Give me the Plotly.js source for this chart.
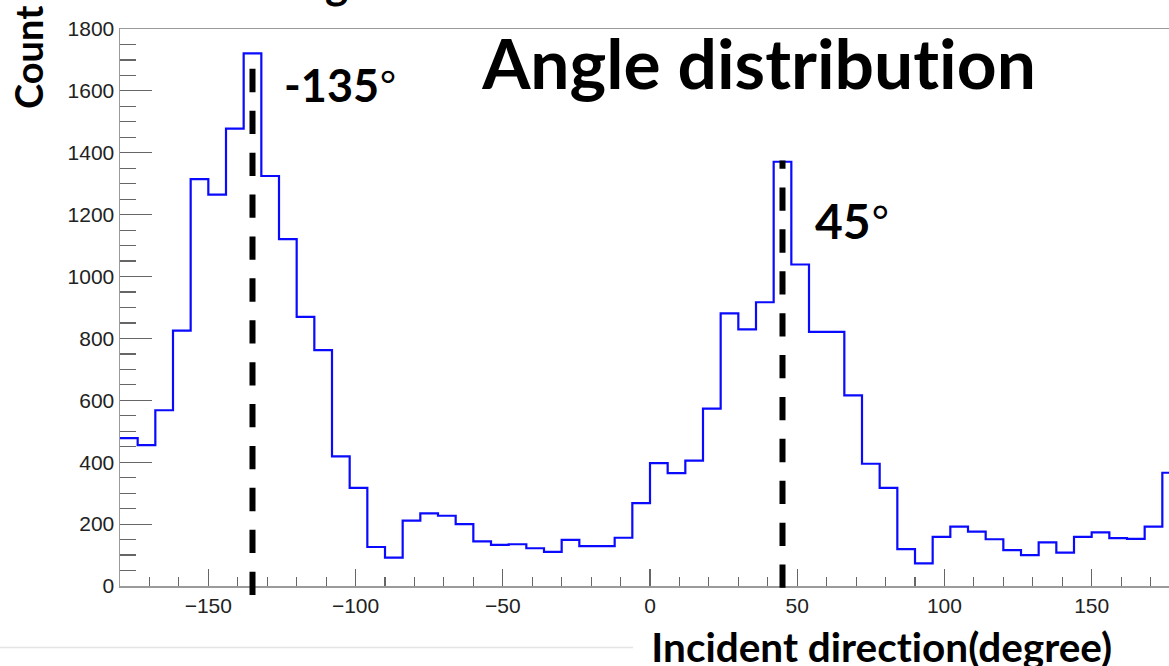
<!DOCTYPE html>
<html>
<head>
<meta charset="utf-8">
<script src="https://cdn.plot.ly/plotly-3.0.1.min.js"></script>
<style>
  html, body { margin: 0; padding: 0; background: #fff; overflow: hidden; }
  #chart { width: 1200px; height: 666px; }
  #chart text { font-variant-ligatures: none; font-feature-settings: "liga" 0, "clig" 0; }
</style>
</head>
<body>
<div id="chart"></div>
<script>
// Histogram of incident angles: 60 bins of 6 degrees from -180 to 180
const binStart = -180;
const binWidth = 6;
const counts = [
  478, 455, 568, 825, 1315, 1265, 1478, 1721, 1325, 1121,
  870, 762, 419, 317, 126, 92, 211, 235, 227, 200,
  144, 133, 135, 122, 110, 149, 129, 129, 156, 268,
  397, 365, 405, 573, 881, 829, 917, 1371, 1039, 821,
  821, 616, 395, 317, 119, 73, 159, 192, 176, 151,
  116, 100, 141, 108, 159, 173, 155, 152, 192, 366
];

// Marked directions and the extent of their dashed guide lines (in counts)
const peakAngles = [-135, 45];
const peakLabels = ['-135', '45'];
const guideTop = [1683, 1375];
const guideBottom = [-29, -6];

// Label anchors (degrees, counts)
const labelX = [-124.9, 55.3];
const labelY = [1620, 1181];
const labelSize = [45, 48];

const xRange = [-180, 180];
const yRange = [0, 1800];

// Step outline: left bin edges plus the closing edge
const edgesX = [];
const stepY = [];
for (let i = 0; i < counts.length; i++) {
  edgesX.push(binStart + i * binWidth);
  stepY.push(counts[i]);
}
edgesX.push(binStart + counts.length * binWidth);
stepY.push(counts[counts.length - 1]);

const hist = {
  type: 'scatter',
  mode: 'lines',
  x: edgesX,
  y: stepY,
  line: { shape: 'hv', color: '#0a0aff', width: 2.2 },
  hoverinfo: 'x+y',
  showlegend: false
};

// Fraction of the y-axis domain for a count value (guides may dip below zero)
function yFrac(v) { return (v - yRange[0]) / (yRange[1] - yRange[0]); }

const shapes = peakAngles.map((a, i) => ({
  type: 'line',
  xref: 'x', yref: 'y domain',
  x0: a, x1: a,
  y0: yFrac(guideBottom[i]), y1: yFrac(guideTop[i]),
  line: { color: '#000', width: 6, dash: '23.3px,18.6px' },
  layer: 'above'
}));

// faint separator line at the lower left
shapes.push({
  type: 'line', xref: 'paper', yref: 'paper',
  x0: -0.1132, x1: 0.484, y0: -0.1104, y1: -0.1104,
  line: { color: '#e4e4e4', width: 1.5 }
});

const boldFont = (size) => ({ family: 'Lato, "Open Sans", sans-serif', size: size, color: '#000', weight: 700 });
const degree = '<span style="font-family:Liberation Sans;font-weight:400">°</span>';

const annotations = peakLabels.map((t, i) => ({
  xref: 'x', yref: 'y',
  x: labelX[i], y: labelY[i],
  xanchor: 'left', yanchor: 'middle',
  text: t + degree,
  showarrow: false,
  font: boldFont(labelSize[i])
}));

annotations.push({
  xref: 'paper', yref: 'paper',
  x: -0.0868, y: 0.9497,
  xanchor: 'center', yanchor: 'middle',
  text: 'Count', textangle: -90,
  showarrow: false,
  font: boldFont(38)
});

annotations.push({
  xref: 'paper', yref: 'paper',
  x: 0.7184, y: -0.1086,
  xanchor: 'center', yanchor: 'middle',
  text: 'Incident direction(degree)',
  showarrow: false,
  font: boldFont(40.5)
});

// tail of a heading line above the frame
annotations.push({
  xref: 'paper', yref: 'paper',
  x: 0.2047, y: 1.035,
  xanchor: 'center', yanchor: 'bottom',
  text: 'g',
  showarrow: false,
  font: boldFont(44)
});

const tickFont = { family: '"Liberation Sans", Arial, sans-serif', size: 21, color: '#222' };

const layout = {
  width: 1200,
  height: 666,
  margin: { l: 120, r: 20, t: 29, b: 80, pad: 0 },
  paper_bgcolor: '#fff',
  plot_bgcolor: '#fff',
  title: {
    text: 'Angle distribution',
    font: boldFont(69.5),
    xref: 'container', yref: 'container',
    x: 0.6325, y: 0.9024,
    xanchor: 'center', yanchor: 'middle'
  },
  xaxis: {
    range: xRange,
    showgrid: false, zeroline: false,
    showline: true, mirror: true,
    linecolor: '#9a9a9a', linewidth: 1.5,
    ticks: 'inside', ticklen: 17, tickwidth: 1.2, tickcolor: '#666',
    tick0: 0, dtick: 50,
    minor: { ticks: 'inside', ticklen: 9, dtick: 10, tickwidth: 1.2, tickcolor: '#666', showgrid: false },
    tickfont: tickFont
  },
  yaxis: {
    range: yRange,
    showgrid: false, zeroline: false,
    showline: true, mirror: true,
    linecolor: '#9a9a9a', linewidth: 1.5,
    ticks: 'inside', ticklen: 32, tickwidth: 1.2, tickcolor: '#666',
    tick0: 0, dtick: 200,
    minor: { ticks: 'inside', ticklen: 16, dtick: 50, tickwidth: 1.2, tickcolor: '#666', showgrid: false },
    tickfont: tickFont
  },
  shapes: shapes,
  annotations: annotations
};

Plotly.newPlot('chart', [hist], layout, { displayModeBar: false, staticPlot: true });
</script>
</body>
</html>
